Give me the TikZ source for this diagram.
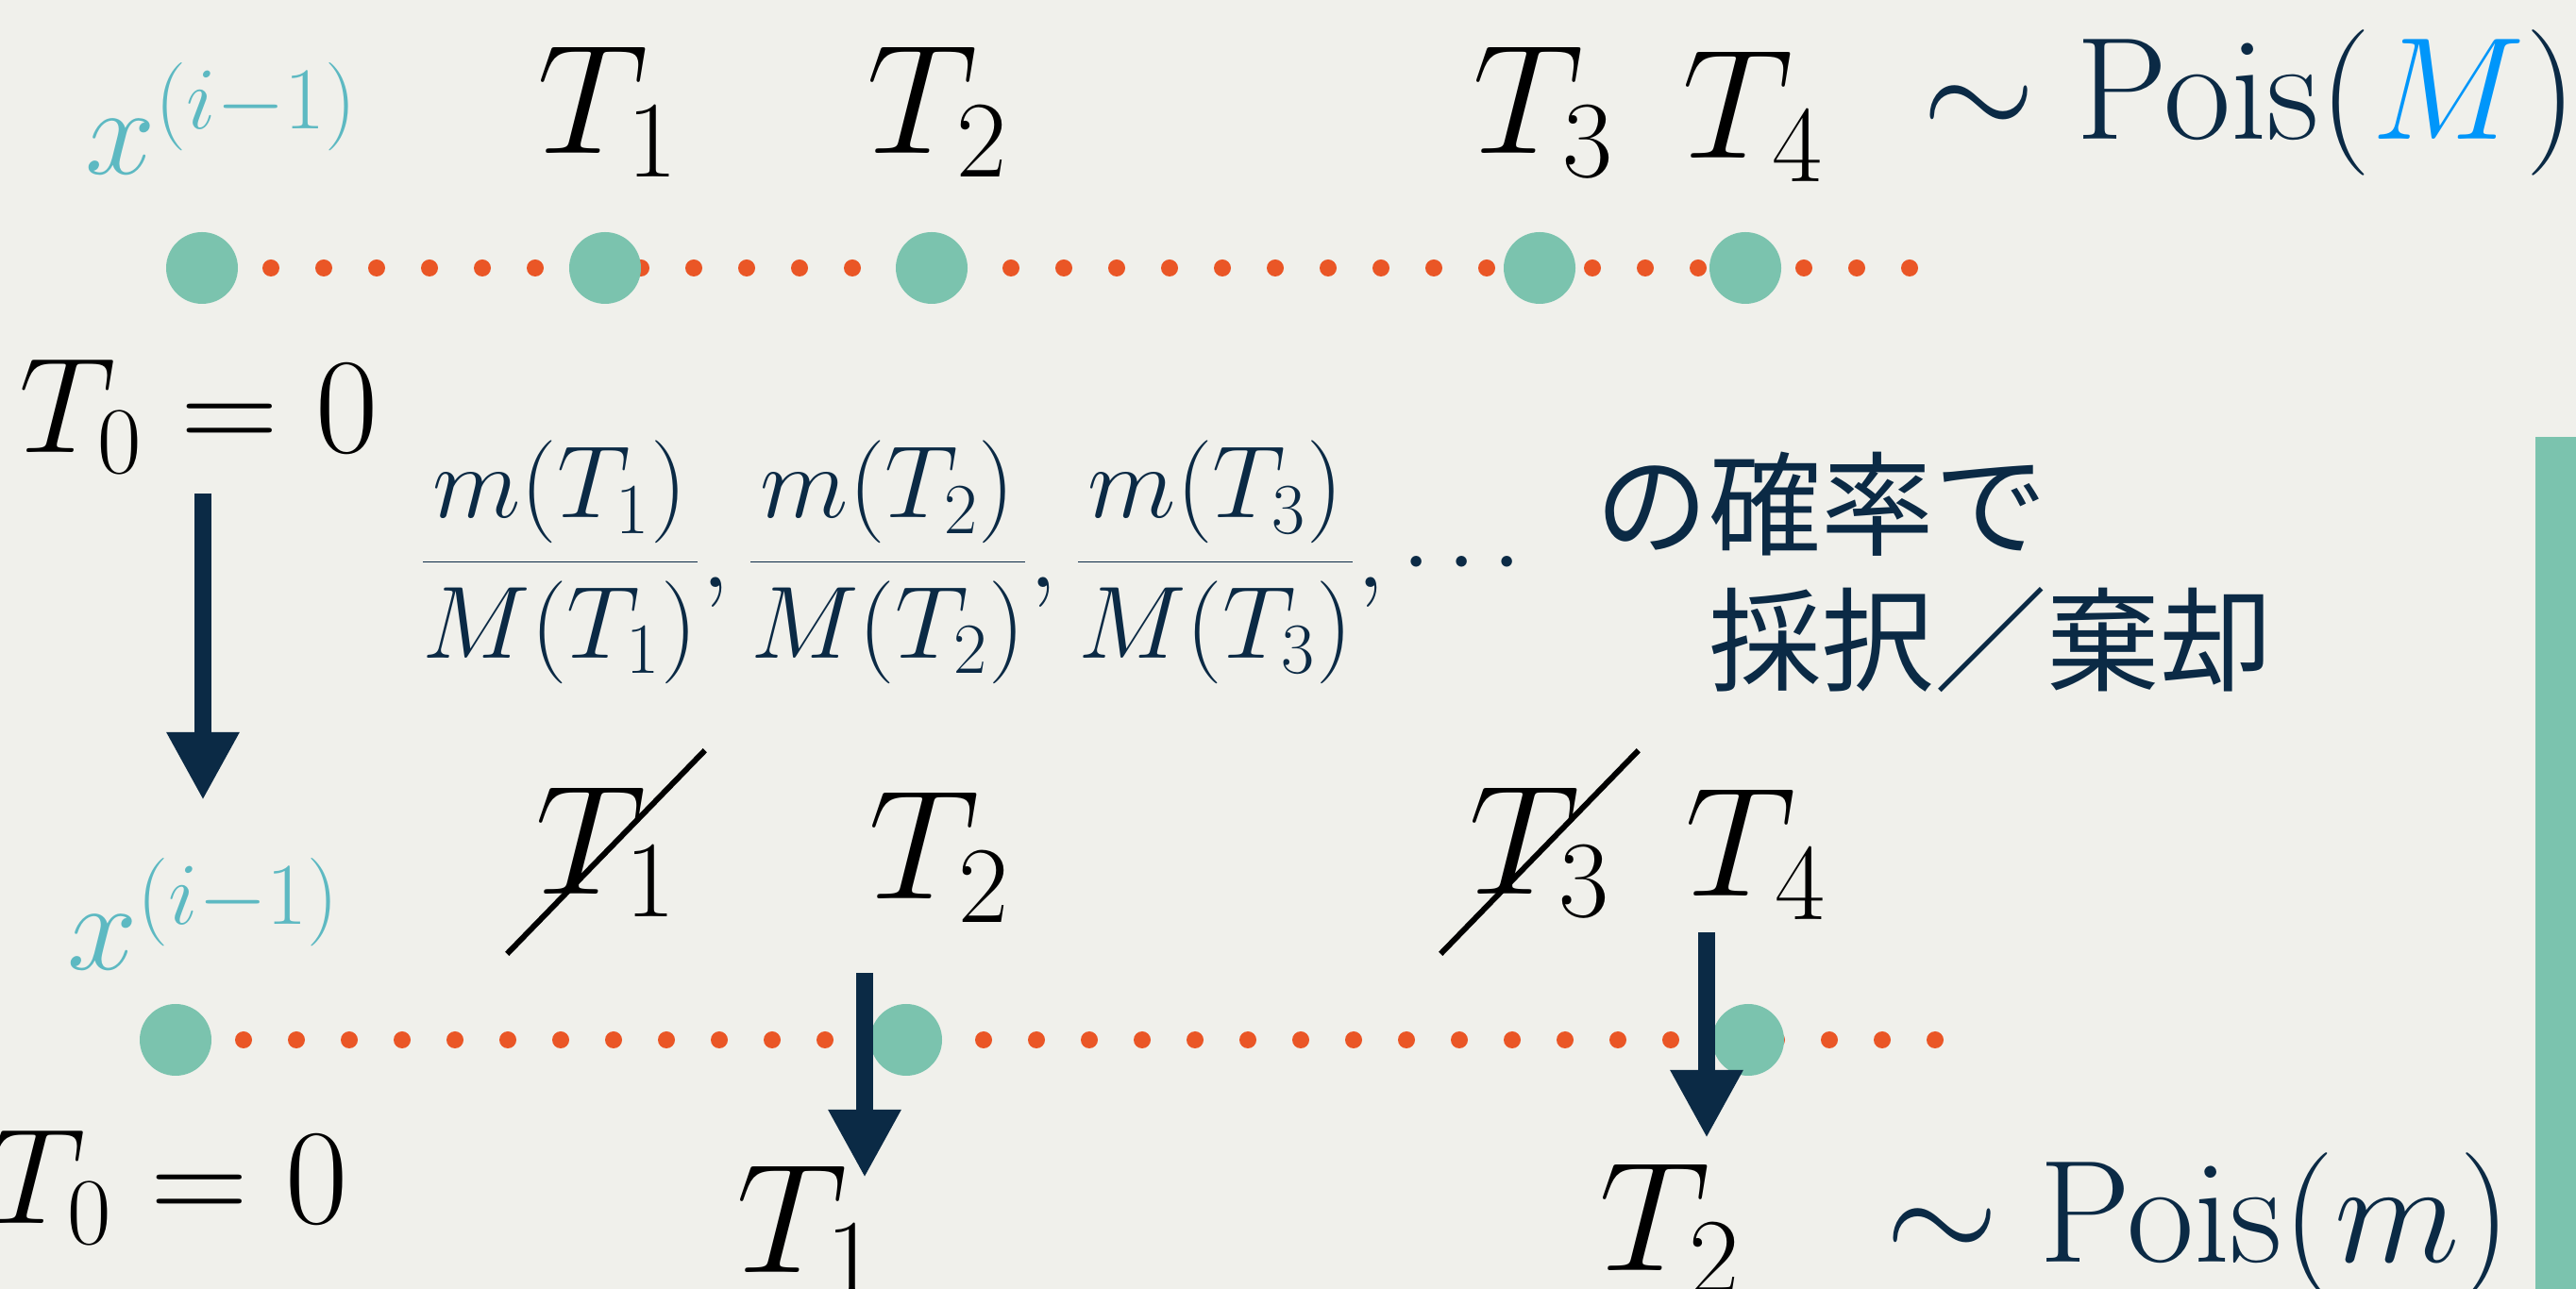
\RequirePackage{fix-cm}
\documentclass[tikz,border=0pt]{standalone}
\usepackage[no-math]{fontspec}
\newfontfamily\jpfont{Noto Sans CJK JP}
\usepackage{xcolor}
\usepackage{tikz}
\usetikzlibrary{arrows.meta, shapes.misc}
\definecolor{paper}{HTML}{F0F0EB}
\definecolor{mint}{HTML}{7BC3AE}
\definecolor{rust}{HTML}{EA5626}
\definecolor{inknavy}{HTML}{0B2A45}
\definecolor{xteal}{HTML}{5DB9C2}
\definecolor{skyblue}{HTML}{0096FA}

\begin{document}
\begin{tikzpicture}[
        tlab/.style={inner sep=0, anchor=base, font=\fontsize{47}{56}\selectfont},
        tzero/.style={inner sep=0, anchor=base, font=\fontsize{41}{49}\selectfont},
        xlab/.style={inner sep=0, anchor=base, text=xteal, font=\fontsize{38}{46}\selectfont},
        pois/.style={inner sep=0, anchor=base, text=inknavy, font=\fontsize{44}{53}\selectfont},
        ratio/.style={inner sep=0, text=inknavy, font=\fontsize{31}{37}\selectfont},
        jp/.style={inner sep=0, align=left, text=inknavy, font=\jpfont\fontsize{34}{41}\selectfont},
        crossed/.style={anchor=center, strike out, draw, line width=0.06cm,
                        inner xsep=0.27cm, inner ysep=0.36cm},
        bigdot/.style={circle, fill=mint, minimum size=0.76cm, inner sep=0},
        flow/.style={-{Triangle[length=0.72cm, width=0.72cm]}, line width=0.18cm, inknavy},
      ]
      \useasboundingbox (0,0) rectangle (27.29,13.66);
      \fill[paper] (0,0) rectangle (27.29,13.66);
      \fill[mint] (26.86,0) rectangle (27.29,9.03);

      % proposals from Pois(M)
      \foreach \k in {0,...,31}
        \fill[rust] ({2.87+0.56*\k},10.82) circle (0.09);
      \node[bigdot] (p0) at (2.14,10.82) {};
      \node[bigdot] (p1) at (6.41,10.82) {};
      \node[bigdot] (p2) at (9.87,10.82) {};
      \node[bigdot] (p3) at (16.31,10.82) {};
      \node[bigdot] (p4) at (18.49,10.82) {};

      \node[xlab] (xtop) at (2.35,11.81) {$x^{(i-1)}$};
      \node[tlab] (t1) at (6.44,12.03) {$T_1$};
      \node[tlab] (t2) at (9.93,12.03) {$T_2$};
      \node[tlab] (t3) at (16.35,12.03) {$T_3$};
      \node[tlab] (t4) at (18.57,11.98) {$T_4$};
      \node[pois] (poisM) at (23.83,12.18) {$\sim\mathrm{Pois}({\color{skyblue}M})$};
      \node[tzero] (zerotop) at (2.11,8.86) {$T_0=0$};

      \node[ratio] (probs) at (10.28,7.70)
        {$\displaystyle\frac{m(T_1)}{M(T_1)},\frac{m(T_2)}{M(T_2)},\frac{m(T_3)}{M(T_3)},\cdots$};
      \node[jp, anchor=north west] (rule) at (16.90,8.88) {の確率で\\\hspace*{1em}採択／棄却};

      % thinned points
      \foreach \k in {0,...,32}
        \fill[rust] ({2.58+0.56*\k},2.64) circle (0.09);
      \node[bigdot] (q0) at (1.86,2.64) {};
      \node[bigdot] (q1) at (9.60,2.64) {};
      \node[bigdot] (q2) at (18.52,2.64) {};

      \node[xlab] (xbot) at (2.16,3.38) {$x^{(i-1)}$};
      \node[tlab, crossed] (u1) at (6.42,4.63) {$T_1$};
      \node[tlab] (u2) at (9.95,4.13) {$T_2$};
      \node[tlab, crossed] (u3) at (16.31,4.63) {$T_3$};
      \node[tlab] (u4) at (18.60,4.16) {$T_4$};
      \node[tzero] (zerobot) at (1.79,0.69) {$T_0=0$};
      \node[tlab] (s1) at (8.55,0.18) {$T_1$};
      \node[tlab] (s2) at (17.69,0.19) {$T_2$};
      \node[pois] (poism) at (23.29,0.29) {$\sim\mathrm{Pois}(m)$};

      \coordinate (a0) at (2.15,8.43);
      \coordinate (b0) at (2.15,5.18);
      \coordinate (a1) at (9.16,3.35);
      \coordinate (b1) at (9.16,1.18);
      \coordinate (a2) at (18.08,3.78);
      \coordinate (b2) at (18.08,1.60);
      \draw[flow] (a0) -- (b0);
      \draw[flow] (a1) -- (b1);
      \draw[flow] (a2) -- (b2);
    \end{tikzpicture}
\end{document}
